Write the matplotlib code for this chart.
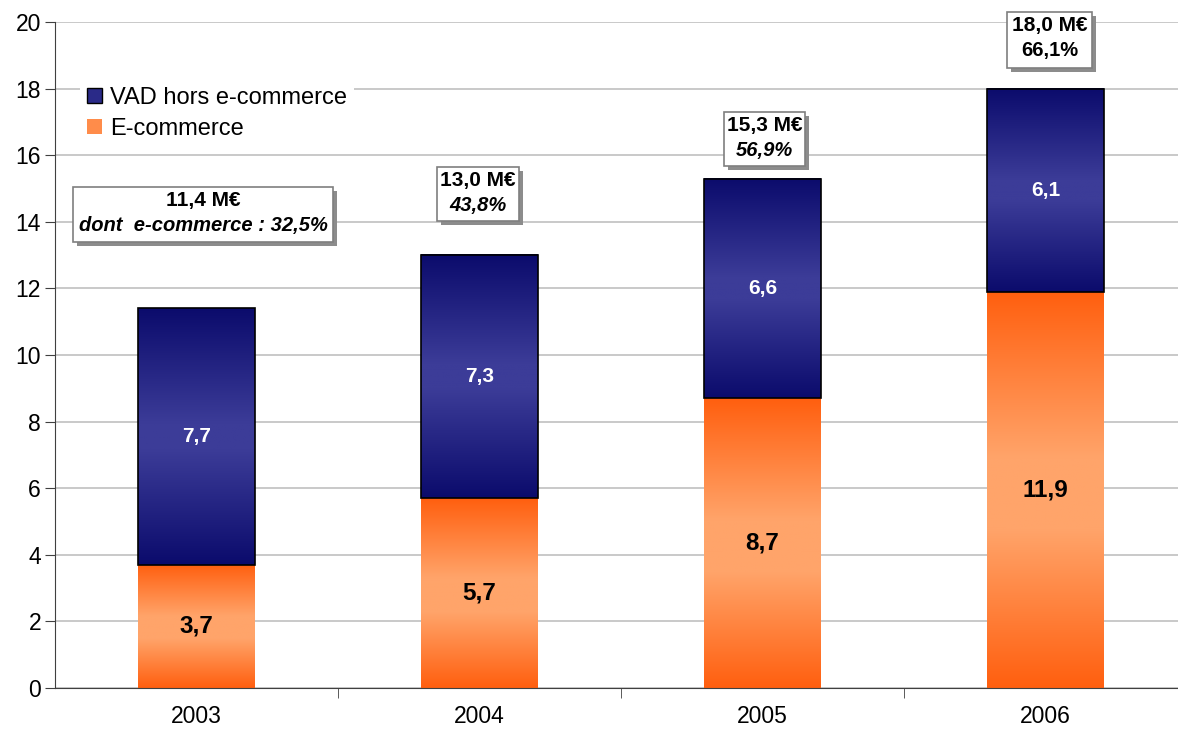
import matplotlib.pyplot as plt
import numpy as np
from matplotlib.colors import LinearSegmentedColormap
from matplotlib.patches import Patch, Rectangle

plt.rcParams['font.family'] = ['Liberation Sans', 'DejaVu Sans']

annees = ['2003', '2004', '2005', '2006']
ecommerce = [3.7, 5.7, 8.7, 11.9]
vad_hors = [7.7, 7.3, 6.6, 6.1]
totaux = ['11,4 M€', '13,0 M€', '15,3 M€', '18,0 M€']
parts = ['dont  e-commerce : 32,5%', '43,8%', '56,9%', '66,1%']
parts_italique = [True, True, True, False]

def fmt(v):
    return f"{v:.1f}".replace('.', ',')

orange = LinearSegmentedColormap.from_list(
    'orange', [(0, '#ff5f0f'), (0.42, '#ffa46a'), (0.6, '#ffa46a'), (1, '#ff5f0f')])
bleu = LinearSegmentedColormap.from_list(
    'bleu', [(0, '#0b0b6c'), (0.45, '#3c3c98'), (0.55, '#3c3c98'), (1, '#0b0b6c')])

fig = plt.figure(figsize=(11.78, 7.31), dpi=100)
ax = fig.add_axes([55 / 1178, 43 / 731, 1132 / 1178, 666 / 731])

x = np.arange(len(annees))
largeur = 0.41
b1 = ax.bar(x, ecommerce, largeur, color='none', edgecolor='none', zorder=3)
b2 = ax.bar(x, vad_hors, largeur, bottom=ecommerce, color='none',
            edgecolor='black', linewidth=1.2, zorder=4)

degrade = np.linspace(0, 1, 256).reshape(-1, 1)
for barres, cmap in ((b1, orange), (b2, bleu)):
    for r in barres:
        x0, y0 = r.get_x(), r.get_y()
        ax.imshow(degrade, cmap=cmap, aspect='auto', zorder=2.5,
                  extent=[x0, x0 + r.get_width(), y0, y0 + r.get_height()])

for i in range(len(annees)):
    ax.text(x[i], ecommerce[i] / 2, fmt(ecommerce[i]), ha='center', va='center',
            fontsize=17.5, fontweight='bold', color='black', zorder=5)
    ax.text(x[i], ecommerce[i] + vad_hors[i] / 2, fmt(vad_hors[i]), ha='center',
            va='center', fontsize=15, fontweight='bold', color='white', zorder=5)

# encadrés des totaux (x0, x1, y0, y1) avec ombre portée
cadres = [(-0.436, 0.482, 13.39, 15.05), (0.850, 1.140, 14.02, 15.65),
          (1.864, 2.150, 15.68, 17.30), (2.864, 3.164, 18.62, 20.30)]
for i, (cx0, cx1, cy0, cy1) in enumerate(cadres):
    ombre = Rectangle((cx0 + 0.015, cy0 - 0.13), cx1 - cx0, cy1 - cy0,
                      facecolor='#8c8c8c', edgecolor='none', zorder=6, clip_on=False)
    cadre = Rectangle((cx0, cy0), cx1 - cx0, cy1 - cy0, facecolor='white',
                      edgecolor='#7f7f7f', linewidth=1.2, zorder=7, clip_on=False)
    ax.add_patch(ombre)
    ax.add_patch(cadre)
    xc = (cx0 + cx1) / 2
    ax.text(xc, cy1 - 0.42, totaux[i], ha='center', va='center', fontsize=15,
            fontweight='bold', zorder=8, clip_on=False)
    ax.text(xc, cy1 - 1.17, parts[i], ha='center', va='center', fontsize=14.5,
            fontweight='bold', style='italic' if parts_italique[i] else 'normal',
            zorder=8, clip_on=False)

ax.set_xlim(-0.5, 3.5)
ax.set_ylim(0, 20)
ax.set_yticks(range(0, 21, 2))
ax.set_xticks(x)
ax.set_xticklabels(annees)
ax.set_xticks([0.5, 1.5, 2.5], minor=True)
ax.tick_params(axis='x', which='major', length=0, labelsize=16.5, pad=12)
ax.tick_params(axis='x', which='minor', length=7, color='#404040')
ax.tick_params(axis='y', length=7, color='#404040', labelsize=16.5, pad=3)
ax.grid(axis='y', color='#c0c0c0', linewidth=1.2, zorder=0)
ax.set_axisbelow(True)
for s in ('top', 'right'):
    ax.spines[s].set_visible(False)
ax.spines['left'].set_color('#404040')
ax.spines['bottom'].set_color('#404040')

poignees = [Patch(facecolor='#2a2a88', edgecolor='black', label='VAD hors e-commerce'),
            Patch(facecolor='#ff8c4a', edgecolor='none', label='E-commerce')]
leg = ax.legend(handles=poignees, loc='upper left', bbox_to_anchor=(0.012, 0.931),
                fontsize=17, frameon=True, fancybox=False, edgecolor='none',
                framealpha=1, handlelength=0.6, handleheight=0.6,
                handletextpad=0.35, labelspacing=0.4, borderpad=0.3)
leg.set_zorder(9)

fig.savefig('out.png', dpi=100)
